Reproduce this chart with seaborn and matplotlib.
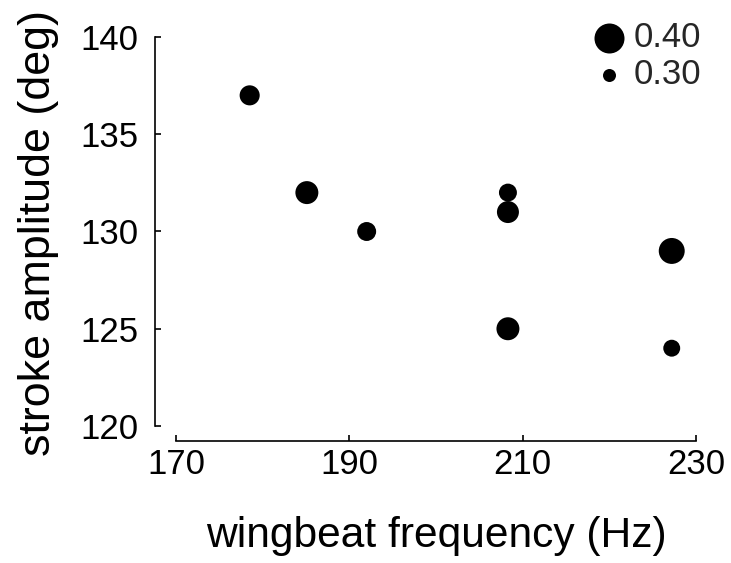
import matplotlib
matplotlib.use("Agg")
import matplotlib.pyplot as plt
import seaborn as sns
import pandas as pd
import numpy as np

# data
frequency = [178.5, 185.1, 192.0, 208.3, 208.3, 208.3, 227.2, 227.2]
amplitude = [137.0, 132.0, 130.0, 132.0, 131.0, 125.0, 129.0, 124.0]
size_value = [0.332, 0.349, 0.326, 0.321, 0.343, 0.349, 0.369, 0.316]
legend_values = [0.40, 0.30]
x_ticks = [170, 190, 210, 230]
y_ticks = [120, 125, 130, 135, 140]

df = pd.DataFrame({"freq": frequency, "amp": amplitude, "sz": size_value})

sns.set_style("white")
plt.rcParams["font.family"] = ["Liberation Sans", "DejaVu Sans"]

W, H, DPI = 731, 563, 100
fig = plt.figure(figsize=(W / DPI, H / DPI), dpi=DPI)
# data area in pixels: x 176..696, y 37..426
AX_L, AX_R, AX_T, AX_B = 176, 696, 37, 426
ax = fig.add_axes([AX_L / W, 1 - AX_B / H, (AX_R - AX_L) / W, (AX_B - AX_T) / H])

s_min = (13 * 0.72) ** 2
s_max = (30 * 0.72) ** 2
norm = (0.30, 0.40)
sns.scatterplot(data=df, x="freq", y="amp", size="sz", sizes=(s_min, s_max),
                size_norm=norm, color="black", linewidth=0, legend=False, ax=ax)

ax.set_xlim(170, 230)
ax.set_ylim(120, 140)
ax.set_xticks(x_ticks)
ax.set_yticks(y_ticks)
ax.set_xticklabels([str(t) for t in x_ticks])
ax.set_yticklabels([str(t) for t in y_ticks])

for sp in ["top", "right"]:
    ax.spines[sp].set_visible(False)
ax.spines["left"].set_position(("outward", 21 * 0.72))
ax.spines["bottom"].set_position(("outward", 15 * 0.72))
for sp in ["left", "bottom"]:
    ax.spines[sp].set_color("black")
    ax.spines[sp].set_linewidth(1.2)

fs = 25
ax.tick_params(axis="both", direction="in", length=4.5, width=1.2, color="black",
               labelsize=fs, labelcolor="black", bottom=True, left=True)
ax.tick_params(axis="y", pad=12)
ax.tick_params(axis="x", pad=5)

ax.set_xlabel("wingbeat frequency (Hz)", fontsize=30, color="black")
ax.set_ylabel("stroke amplitude (deg)", fontsize=30, color="black")

# scale label font sizes to match the reference text lengths
fig.canvas.draw()
r = fig.canvas.get_renderer()
xb = ax.xaxis.label.get_window_extent(r)
ax.xaxis.label.set_fontsize(30 * 460 / xb.width)
yb = ax.yaxis.label.get_window_extent(r)
ax.yaxis.label.set_fontsize(30 * 445 / yb.height)

aw, ah = AX_R - AX_L, AX_B - AX_T
ax.xaxis.set_label_coords(0.5, (AX_B - 516) / ah)
ax.yaxis.set_label_coords((59 - AX_L) / aw, (AX_B - 232.5) / ah)

# legend handles sized through the same mapping
def area(v):
    return s_min + (v - norm[0]) / (norm[1] - norm[0]) * (s_max - s_min)

handles = [ax.scatter([], [], s=area(v), color="black", linewidth=0) for v in legend_values]
ax.legend(handles, [f"{v:.2f}" for v in legend_values], loc="upper right",
          bbox_to_anchor=(1.01, 1.042), frameon=False, fontsize=fs,
          handlelength=0.9, handletextpad=0.26, labelspacing=0.12, borderpad=0,
          borderaxespad=0)

fig.savefig("out.png", dpi=DPI, facecolor="white")
